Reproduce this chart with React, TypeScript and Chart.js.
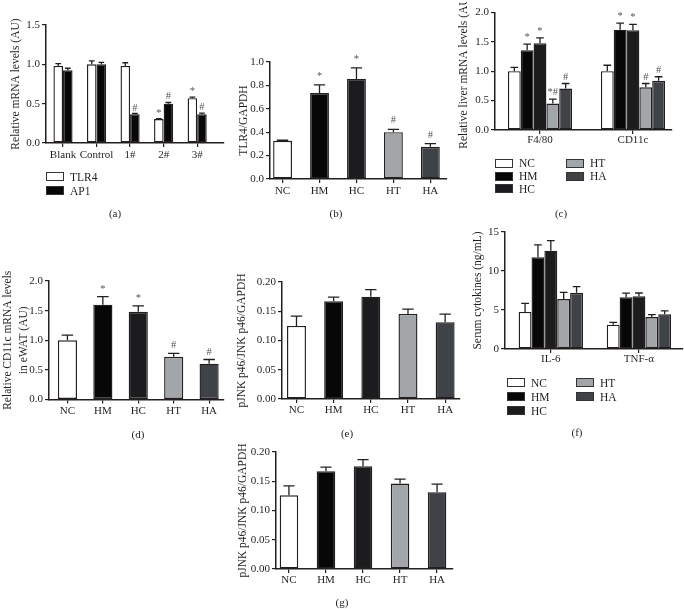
import React, { useEffect, useRef } from "react";
import { Chart, registerables } from "chart.js";

Chart.register(...registerables);

const SERIF = "'Liberation Serif', 'Times New Roman', serif";
const INK = "#231f20";
const MARK_INK = "#555555";

// ---------- shared groups ----------
const GROUPS = ["NC", "HM", "HC", "HT", "HA"];
const GROUP_COLORS = ["#ffffff", "#070707", "#1c1c1e", "#a3a6a9", "#3f4347"];

// ---------- (a) ----------
const aCategories = ["Blank", "Control", "1#", "2#", "3#"];
const aTLR4 = [0.98, 1.0, 0.98, 0.305, 0.57];
const aTLR4Err = [0.03, 0.045, 0.04, 0.005, 0.012];
const aTLR4Marks = ["", "", "", "*", "*"];
const aAP1 = [0.925, 1.0, 0.365, 0.5, 0.365];
const aAP1Err = [0.025, 0.025, 0.01, 0.015, 0.015];
const aAP1Marks = ["", "", "#", "#", "#"];
const aYTicks = [0, 0.5, 1.0, 1.5];

// ---------- (b) ----------
const bValues = [0.327, 0.735, 0.855, 0.4, 0.275];
const bErrors = [0.004, 0.07, 0.095, 0.025, 0.028];
const bMarks = ["", "*", "*", "#", "#"];
const bYTicks = [0, 0.2, 0.4, 0.6, 0.8, 1.0];

// ---------- (c) ----------
const cCategories = ["F4/80", "CD11c"];
const cNC = [1.0, 1.0];
const cNCErr = [0.065, 0.1];
const cHM = [1.355, 1.705];
const cHMErr = [0.105, 0.11];
const cHC = [1.475, 1.695];
const cHCErr = [0.09, 0.1];
const cHT = [0.45, 0.725];
const cHTErr = [0.075, 0.065];
const cHA = [0.705, 0.835];
const cHAErr = [0.085, 0.07];
const cMarks = [["", ""], ["*", "*"], ["*", "*"], ["*#", "#"], ["#", "#"]];
const cYTicks = [0, 0.5, 1.0, 1.5, 2.0];

// ---------- (d) ----------
const dValues = [1.0, 1.6, 1.48, 0.72, 0.605];
const dErrors = [0.085, 0.135, 0.1, 0.06, 0.07];
const dMarks = ["", "*", "*", "#", "#"];
const dYTicks = [0, 0.5, 1.0, 1.5, 2.0];

// ---------- (e) ----------
const eValues = [0.125, 0.167, 0.175, 0.1455, 0.131];
const eErrors = [0.0165, 0.007, 0.012, 0.008, 0.014];
const eYTicks = [0, 0.05, 0.1, 0.15, 0.2];

// ---------- (f) ----------
const fCategories = ["IL-6", "TNF-\u03b1"];
const fNC = [4.75, 3.12];
const fNCErr = [1.1, 0.3];
const fHM = [11.75, 6.62];
const fHMErr = [1.6, 0.55];
const fHC = [12.6, 6.75];
const fHCErr = [1.3, 0.43];
const fHT = [6.4, 4.1];
const fHTErr = [0.85, 0.3];
const fHA = [7.2, 4.44];
const fHAErr = [0.8, 0.46];
const fYTicks = [0, 5, 10, 15];

// ---------- (g) ----------
const gValues = [0.126, 0.167, 0.1755, 0.146, 0.131];
const gErrors = [0.016, 0.007, 0.0115, 0.0075, 0.014];
const gYTicks = [0, 0.05, 0.1, 0.15, 0.2];

const NO_MARKS = ["", "", "", "", ""];

type Series = {
  label: string;
  values: number[];
  errors: number[];
  marks: string[];
  colors: string | string[];
};

type PanelSpec = {
  key: string;
  categories: string[];
  series: Series[];
  yTicks: number[];
  decimals: number;
  yTitle: string | string[];
  titleLineHeight: number;
  titleX: number;
  axisX: number;
  top: number;
  bottom: number;
  right: number;
  xMin: number;
  xMax: number;
  groupFrac: number;
  labelPad: number;
  markGap: number;
};

const errorBarPlugin = {
  id: "errorBars",
  afterDatasetsDraw(chart: any, _args: any, opts: any) {
    const { ctx } = chart;
    const yScale = chart.scales.y;
    chart.data.datasets.forEach((ds: any, di: number) => {
      const meta = chart.getDatasetMeta(di);
      meta.data.forEach((bar: any, i: number) => {
        const v = ds.data[i].y;
        const e = ds.errors[i];
        const yTop = yScale.getPixelForValue(v + e);
        const half = bar.width * 0.3;
        ctx.save();
        ctx.strokeStyle = INK;
        ctx.lineWidth = 1.3;
        ctx.beginPath();
        ctx.moveTo(bar.x, bar.y);
        ctx.lineTo(bar.x, yTop);
        ctx.moveTo(bar.x - half, yTop);
        ctx.lineTo(bar.x + half, yTop);
        ctx.stroke();
        const m = ds.marks[i];
        if (m) {
          ctx.fillStyle = MARK_INK;
          ctx.font = `10.5px ${SERIF}`;
          ctx.textAlign = "center";
          ctx.textBaseline = "alphabetic";
          ctx.fillText(m, bar.x, yTop - (opts.gap || 4));
        }
        ctx.restore();
      });
    });
  },
};

function BarPanel({ spec }: { spec: PanelSpec }) {
  const ref = useRef<HTMLCanvasElement>(null);
  const lh = 11.5 * spec.titleLineHeight;
  const canvasLeft = Math.round(spec.titleX - lh / 2);
  const canvasTop = Math.round(spec.top - 10);
  const width = Math.round(spec.right + 12 - canvasLeft);
  const height = Math.ceil(spec.bottom + 28 - canvasTop);
  const yW = spec.axisX - canvasLeft;
  const xH = canvasTop + height - spec.bottom;
  const padTop = spec.top - canvasTop;
  const padRight = canvasLeft + width - spec.right;

  useEffect(() => {
    const axisCommon = {
      grid: {
        display: true,
        drawOnChartArea: false,
        drawTicks: true,
        tickLength: 4,
        color: INK,
        lineWidth: 1.2,
        offset: false,
      },
      border: { display: true, color: INK, width: 1.5 },
    };
    const chart = new Chart(ref.current as HTMLCanvasElement, {
      type: "bar",
      data: {
        datasets: spec.series.map((s) => ({
          label: s.label,
          data: s.values.map((v, i) => ({ x: i, y: v })),
          backgroundColor: s.colors,
          borderColor: INK,
          borderWidth: 1.4,
          borderSkipped: false,
          barPercentage: 1,
          categoryPercentage: spec.groupFrac,
          errors: s.errors,
          marks: s.marks,
        })) as any,
      },
      options: {
        responsive: false,
        animation: false,
        devicePixelRatio: 1,
        layout: { padding: { top: padTop, right: padRight, left: 0, bottom: 0 } },
        plugins: {
          legend: { display: false },
          tooltip: { enabled: false },
          errorBars: { gap: spec.markGap },
        } as any,
        scales: {
          x: {
            type: "linear",
            offset: false,
            bounds: "data",
            min: spec.xMin,
            max: spec.xMax,
            afterBuildTicks: (s: any) => {
              s.ticks = spec.categories.map((_, i) => ({ value: i }));
            },
            afterFit: (s: any) => {
              s.height = xH;
            },
            ticks: {
              callback: (v: any) => spec.categories[Math.round(Number(v))] ?? "",
              autoSkip: false,
              maxRotation: 0,
              padding: spec.labelPad,
              color: INK,
              font: { family: SERIF, size: 11 },
            },
            ...axisCommon,
          },
          y: {
            min: spec.yTicks[0],
            max: spec.yTicks[spec.yTicks.length - 1],
            afterBuildTicks: (s: any) => {
              s.ticks = spec.yTicks.map((v) => ({ value: v }));
            },
            afterFit: (s: any) => {
              s.width = yW;
            },
            ticks: {
              callback: (v: any) => Number(v).toFixed(spec.decimals),
              padding: 2,
              color: INK,
              font: { family: SERIF, size: 11 },
            },
            title: {
              display: true,
              text: spec.yTitle,
              color: INK,
              padding: 0,
              font: { family: SERIF, size: 11.5, lineHeight: spec.titleLineHeight },
            },
            ...axisCommon,
          },
        } as any,
      },
      plugins: [errorBarPlugin as any],
    });
    return () => chart.destroy();
  }, []);

  return (
    <canvas
      ref={ref}
      width={width}
      height={height}
      style={{ position: "absolute", left: canvasLeft, top: canvasTop, width, height }}
    />
  );
}

function single(values: number[], errors: number[], marks: string[]): Series[] {
  return [{ label: "value", values, errors, marks, colors: GROUP_COLORS }];
}

const PANELS: PanelSpec[] = [
  {
    key: "a",
    categories: aCategories,
    series: [
      { label: "TLR4", values: aTLR4, errors: aTLR4Err, marks: aTLR4Marks, colors: "#ffffff" },
      { label: "AP1", values: aAP1, errors: aAP1Err, marks: aAP1Marks, colors: "#070707" },
    ],
    yTicks: aYTicks,
    decimals: 1,
    yTitle: "Relative mRNA levels (AU)",
    titleLineHeight: 1.2,
    titleX: 16,
    axisX: 46,
    top: 25,
    bottom: 143,
    right: 224,
    xMin: -0.507,
    xMax: 4.8,
    groupFrac: 0.57,
    labelPad: 2,
    markGap: 3,
  },
  {
    key: "b",
    categories: GROUPS,
    series: single(bValues, bErrors, bMarks),
    yTicks: bYTicks,
    decimals: 1,
    yTitle: "TLR4/GAPDH",
    titleLineHeight: 1.2,
    titleX: 243.5,
    axisX: 270,
    top: 62,
    bottom: 179,
    right: 447,
    xMin: -0.34,
    xMax: 4.45,
    groupFrac: 0.51,
    labelPad: 2,
    markGap: 6,
  },
  {
    key: "c",
    categories: cCategories,
    series: [
      { label: "NC", values: cNC, errors: cNCErr, marks: cMarks[0], colors: GROUP_COLORS[0] },
      { label: "HM", values: cHM, errors: cHMErr, marks: cMarks[1], colors: GROUP_COLORS[1] },
      { label: "HC", values: cHC, errors: cHCErr, marks: cMarks[2], colors: GROUP_COLORS[2] },
      { label: "HT", values: cHT, errors: cHTErr, marks: cMarks[3], colors: GROUP_COLORS[3] },
      { label: "HA", values: cHA, errors: cHAErr, marks: cMarks[4], colors: GROUP_COLORS[4] },
    ],
    yTicks: cYTicks,
    decimals: 1,
    yTitle: "Relative liver mRNA levels (AU)",
    titleLineHeight: 1.2,
    titleX: 463.5,
    axisX: 495,
    top: 12.3,
    bottom: 130,
    right: 672,
    xMin: -0.484,
    xMax: 1.42,
    groupFrac: 0.69,
    labelPad: 0,
    markGap: 4,
  },
  {
    key: "d",
    categories: GROUPS,
    series: single(dValues, dErrors, dMarks),
    yTicks: dYTicks,
    decimals: 1,
    yTitle: ["Relative CD11c mRNA levels", "in eWAT (AU)"],
    titleLineHeight: 1.4,
    titleX: 8,
    axisX: 49,
    top: 281,
    bottom: 399.5,
    right: 224,
    xMin: -0.52,
    xMax: 4.42,
    groupFrac: 0.54,
    labelPad: 1,
    markGap: 5,
  },
  {
    key: "e",
    categories: GROUPS,
    series: single(eValues, eErrors, NO_MARKS),
    yTicks: eYTicks,
    decimals: 2,
    yTitle: "pJNK p46/JNK p46/GAPDH",
    titleLineHeight: 1.2,
    titleX: 242,
    axisX: 282,
    top: 282,
    bottom: 399,
    right: 460,
    xMin: -0.39,
    xMax: 4.4,
    groupFrac: 0.51,
    labelPad: 1,
    markGap: 4,
  },
  {
    key: "f",
    categories: fCategories,
    series: [
      { label: "NC", values: fNC, errors: fNCErr, marks: NO_MARKS, colors: GROUP_COLORS[0] },
      { label: "HM", values: fHM, errors: fHMErr, marks: NO_MARKS, colors: GROUP_COLORS[1] },
      { label: "HC", values: fHC, errors: fHCErr, marks: NO_MARKS, colors: GROUP_COLORS[2] },
      { label: "HT", values: fHT, errors: fHTErr, marks: NO_MARKS, colors: GROUP_COLORS[3] },
      { label: "HA", values: fHA, errors: fHAErr, marks: NO_MARKS, colors: GROUP_COLORS[4] },
    ],
    yTicks: fYTicks,
    decimals: 0,
    yTitle: "Serum cytokines (ng/mL)",
    titleLineHeight: 1.2,
    titleX: 478,
    axisX: 505,
    top: 232,
    bottom: 349,
    right: 683,
    xMin: -0.52,
    xMax: 1.5,
    groupFrac: 0.73,
    labelPad: 0,
    markGap: 4,
  },
  {
    key: "g",
    categories: GROUPS,
    series: single(gValues, gErrors, NO_MARKS),
    yTicks: gYTicks,
    decimals: 2,
    yTitle: "pJNK p46/JNK p46/GAPDH",
    titleLineHeight: 1.2,
    titleX: 242.5,
    axisX: 276,
    top: 452,
    bottom: 569,
    right: 453,
    xMin: -0.35,
    xMax: 4.43,
    groupFrac: 0.5,
    labelPad: 1,
    markGap: 4,
  },
];

type LegendEntry = { label: string; color: string; x: number; y: number };

const LEGENDS: LegendEntry[] = [
  { label: "TLR4", color: "#ffffff", x: 46, y: 172 },
  { label: "AP1", color: "#070707", x: 46, y: 186 },
  { label: GROUPS[0], color: GROUP_COLORS[0], x: 495, y: 158.5 },
  { label: GROUPS[1], color: GROUP_COLORS[1], x: 495, y: 171.5 },
  { label: GROUPS[2], color: GROUP_COLORS[2], x: 495, y: 184 },
  { label: GROUPS[3], color: GROUP_COLORS[3], x: 566, y: 158.5 },
  { label: GROUPS[4], color: GROUP_COLORS[4], x: 566, y: 171.5 },
  { label: GROUPS[0], color: GROUP_COLORS[0], x: 507, y: 378 },
  { label: GROUPS[1], color: GROUP_COLORS[1], x: 507, y: 392 },
  { label: GROUPS[2], color: GROUP_COLORS[2], x: 507, y: 406 },
  { label: GROUPS[3], color: GROUP_COLORS[3], x: 576, y: 378 },
  { label: GROUPS[4], color: GROUP_COLORS[4], x: 576, y: 392 },
];

const CAPTIONS = [
  { text: "(a)", x: 115, y: 213 },
  { text: "(b)", x: 336, y: 213 },
  { text: "(c)", x: 561, y: 213 },
  { text: "(d)", x: 138, y: 434 },
  { text: "(e)", x: 347, y: 433 },
  { text: "(f)", x: 577, y: 432 },
  { text: "(g)", x: 342, y: 602 },
];

export default function App() {
  return (
    <div
      style={{
        position: "absolute",
        left: 0,
        top: 0,
        width: 684,
        height: 609,
        background: "#ffffff",
        overflow: "hidden",
        fontFamily: SERIF,
        color: INK,
      }}
    >
      {PANELS.map((p) => (
        <BarPanel key={p.key} spec={p} />
      ))}
      {LEGENDS.map((l, i) => (
        <React.Fragment key={"lg" + i}>
          <div
            style={{
              position: "absolute",
              left: l.x,
              top: l.y,
              width: 16,
              height: 7,
              background: l.color,
              border: "1px solid #333",
            }}
          />
          <div
            style={{
              position: "absolute",
              left: l.x + 24,
              top: l.y + 4.5 - 8,
              height: 16,
              lineHeight: "16px",
              fontSize: 11.5,
              fontFamily: SERIF,
              whiteSpace: "nowrap",
            }}
          >
            {l.label}
          </div>
        </React.Fragment>
      ))}
      {CAPTIONS.map((c) => (
        <div
          key={c.text}
          style={{
            position: "absolute",
            left: c.x - 20,
            width: 40,
            top: c.y - 8,
            height: 16,
            lineHeight: "16px",
            textAlign: "center",
            fontSize: 11,
            fontFamily: SERIF,
          }}
        >
          {c.text}
        </div>
      ))}
    </div>
  );
}
